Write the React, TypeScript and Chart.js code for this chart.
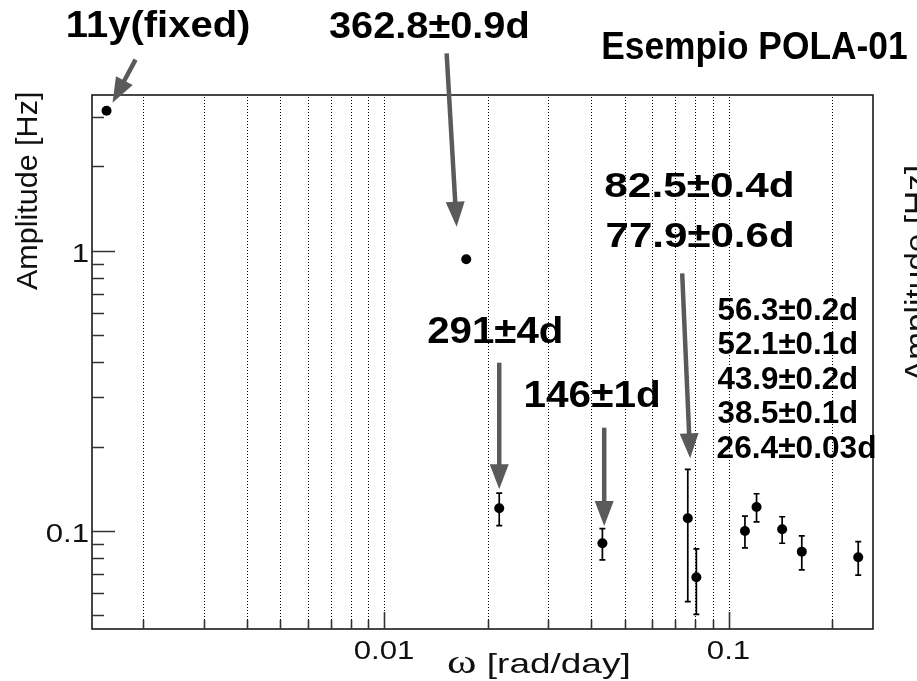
import { useEffect, useRef } from "react";
import { Chart, registerables } from "chart.js";

Chart.register(...registerables);

// Fitted periods in days (the first one is the fixed 11-year cycle)
const periodDays = [4017.75, 362.8, 291, 146, 82.5, 77.9, 56.3, 52.1, 43.9, 38.5, 26.4];
// Fitted amplitudes [Hz] and their errors
const amplitudeHz = [3.16, 0.932, 0.1205, 0.0904, 0.111, 0.0684, 0.1, 0.1218, 0.1014, 0.0844, 0.0806];
const amplitudeErr = [0, 0, 0.016, 0.0115, 0.055, 0.018, 0.013, 0.014, 0.011, 0.0117, 0.011];
// Period labels written on the plot
const periodLabels = [
  "11y(fixed)",
  "362.8±0.9d",
  "291±4d",
  "146±1d",
  "82.5±0.4d",
  "77.9±0.6d",
  "56.3±0.2d",
  "52.1±0.1d",
  "43.9±0.2d",
  "38.5±0.1d",
  "26.4±0.03d",
];
const chartTitle = "Esempio POLA-01";
const xTitle = "ω";
const xTitleRest = " [rad/day]";
const yTitle = "Amplitude [Hz]";

// Axis ticks
const xLabelTicks = [0.01, 0.1];
const xGridTicks = [
  0.002, 0.003, 0.004, 0.005, 0.006, 0.007, 0.008, 0.009, 0.01,
  0.02, 0.03, 0.04, 0.05, 0.06, 0.07, 0.08, 0.09, 0.1, 0.2,
];
const yLabelTicks = [0.1, 1];
const yMinorTicks = [0.05, 0.06, 0.07, 0.08, 0.09, 0.2, 0.3, 0.4, 0.5, 0.6, 0.7, 0.8, 0.9, 2, 3];

const X_MIN = 0.001419;
const X_MAX = 0.2627;
const Y_MIN = 0.0447;
const Y_MAX = 3.594;

// ω = 2π / T
const omega = periodDays.map((t) => (2 * Math.PI) / t);

const SANS = '"Liberation Sans", Arial, Helvetica, sans-serif';
const SERIF = '"Liberation Serif", "Times New Roman", serif';
const ARROW = "#5a5a5a";

type Run = { text: string; font: string };

// Draws text runs so that their ink spans [left, right] on the given baseline.
function fitRuns(ctx: CanvasRenderingContext2D, runs: Run[], left: number, right: number, base: number) {
  ctx.save();
  ctx.textAlign = "left";
  ctx.textBaseline = "alphabetic";
  const ms = runs.map((r) => {
    ctx.font = r.font;
    return ctx.measureText(r.text);
  });
  const total = ms.reduce((a, m) => a + m.width, 0);
  const inkStart = -ms[0].actualBoundingBoxLeft;
  const last = ms[ms.length - 1];
  const inkEnd = total - last.width + last.actualBoundingBoxRight;
  const s = (right - left) / (inkEnd - inkStart);
  ctx.translate(left, base);
  ctx.scale(s, 1);
  let x = -inkStart;
  runs.forEach((r, i) => {
    ctx.font = r.font;
    ctx.fillText(r.text, x, 0);
    x += ms[i].width;
  });
  ctx.restore();
}

// Vertical text read bottom-to-top, ink spanning [top, bottom].
function fitVertical(ctx: CanvasRenderingContext2D, text: string, font: string, baseX: number, bottom: number, top: number) {
  ctx.save();
  ctx.font = font;
  ctx.textAlign = "left";
  ctx.textBaseline = "alphabetic";
  const m = ctx.measureText(text);
  const ink = m.actualBoundingBoxLeft + m.actualBoundingBoxRight;
  const s = (bottom - top) / ink;
  ctx.translate(baseX, bottom);
  ctx.rotate(-Math.PI / 2);
  ctx.scale(s, 1);
  ctx.fillText(text, m.actualBoundingBoxLeft, 0);
  ctx.restore();
}

function drawScaled(ctx: CanvasRenderingContext2D, text: string, font: string, x: number, base: number, sx: number, align: CanvasTextAlign) {
  ctx.save();
  ctx.font = font;
  ctx.textAlign = align;
  ctx.textBaseline = "alphabetic";
  ctx.translate(x, base);
  ctx.scale(sx, 1);
  ctx.fillText(text, 0, 0);
  ctx.restore();
}

function arrow(ctx: CanvasRenderingContext2D, x1: number, y1: number, x2: number, y2: number) {
  const headLen = 25;
  const headHalf = 9.5;
  const dx = x2 - x1;
  const dy = y2 - y1;
  const len = Math.hypot(dx, dy);
  const ux = dx / len;
  const uy = dy / len;
  const bx = x2 - ux * headLen;
  const by = y2 - uy * headLen;
  ctx.save();
  ctx.strokeStyle = ARROW;
  ctx.fillStyle = ARROW;
  ctx.lineWidth = 4.5;
  ctx.beginPath();
  ctx.moveTo(x1, y1);
  ctx.lineTo(bx + ux, by + uy);
  ctx.stroke();
  ctx.beginPath();
  ctx.moveTo(x2, y2);
  ctx.lineTo(bx - uy * headHalf, by + ux * headHalf);
  ctx.lineTo(bx + uy * headHalf, by - ux * headHalf);
  ctx.closePath();
  ctx.fill();
  ctx.restore();
}

// Annotation arrows, attached to a data point: tail and tip offsets in px
const arrowSpecs = [
  { idx: 0, tail: [29, -51], tip: [6, -8] },
  { idx: 1, tail: [-19.6, -206], tip: [-9.6, -32.6] },
  { idx: 2, tail: [0, -145.6], tip: [0, -19] },
  { idx: 3, tail: [1.8, -115.6], tip: [1.8, -17.3] },
  { idx: 4, tail: [-5.6, -245], tip: [2.4, -60] },
];

// Annotation text boxes: label index, font size, ink left/right, baseline
const textSpecs = [
  { idx: 0, size: 37, left: 68, right: 249, base: 37.3 },
  { idx: 1, size: 37, left: 329, right: 528, base: 38.3 },
  { idx: 2, size: 37, left: 428.3, right: 561.7, base: 343.3 },
  { idx: 3, size: 37, left: 525.7, right: 659, base: 406.7 },
  { idx: 4, size: 35, left: 605.5, right: 793, base: 196.7 },
  { idx: 5, size: 35, left: 606.7, right: 793, base: 246.7 },
  { idx: 6, size: 32, left: 717.5, right: 856.7, base: 320 },
  { idx: 7, size: 32, left: 717.5, right: 856.7, base: 354.4 },
  { idx: 8, size: 32, left: 717.5, right: 856.7, base: 388.8 },
  { idx: 9, size: 32, left: 717.5, right: 856.7, base: 423.2 },
  { idx: 10, size: 32, left: 717.5, right: 875, base: 457.6 },
];

const framePlugin = {
  id: "rootFrame",
  beforeDraw(chart: Chart) {
    const ctx = chart.ctx;
    ctx.save();
    ctx.fillStyle = "#fff";
    ctx.fillRect(0, 0, chart.width, chart.height);
    ctx.restore();
  },
  beforeDatasetsDraw(chart: Chart) {
    const ctx = chart.ctx;
    const { top, bottom } = chart.chartArea;
    const xs = chart.scales.x;
    const ys = chart.scales.y;

    // dotted vertical grid
    ctx.save();
    ctx.strokeStyle = "#000";
    ctx.lineWidth = 1;
    ctx.setLineDash([1, 2]);
    xGridTicks.forEach((v) => {
      const x = Math.round(xs.getPixelForValue(v)) + 0.5;
      ctx.beginPath();
      ctx.moveTo(x, bottom);
      ctx.lineTo(x, top);
      ctx.stroke();
    });
    ctx.restore();

    // error bars
    ctx.save();
    ctx.strokeStyle = "#000";
    ctx.lineWidth = 1.7;
    omega.forEach((w, i) => {
      const e = amplitudeErr[i];
      if (!e) return;
      const x = xs.getPixelForValue(w);
      const y1 = ys.getPixelForValue(amplitudeHz[i] + e);
      const y2 = ys.getPixelForValue(amplitudeHz[i] - e);
      ctx.beginPath();
      ctx.moveTo(x, y1);
      ctx.lineTo(x, y2);
      ctx.moveTo(x - 3, y1);
      ctx.lineTo(x + 3, y1);
      ctx.moveTo(x - 3, y2);
      ctx.lineTo(x + 3, y2);
      ctx.stroke();
    });
    ctx.restore();
  },
  afterDatasetsDraw(chart: Chart) {
    const ctx = chart.ctx;
    const { left, right, top, bottom } = chart.chartArea;
    const xs = chart.scales.x;
    const ys = chart.scales.y;

    // frame
    ctx.save();
    ctx.strokeStyle = "#1a1a1a";
    ctx.lineWidth = 1.6;
    ctx.strokeRect(left, top, right - left, bottom - top);

    // tick marks
    ctx.strokeStyle = "#333";
    ctx.lineWidth = 1.6;
    ctx.beginPath();
    xGridTicks.forEach((v) => {
      const x = Math.round(xs.getPixelForValue(v)) + 0.5;
      const len = xLabelTicks.includes(v) ? 17 : 9;
      ctx.moveTo(x, bottom);
      ctx.lineTo(x, bottom - len);
    });
    yLabelTicks.concat(yMinorTicks).forEach((v) => {
      const y = Math.round(ys.getPixelForValue(v)) + 0.5;
      const len = yLabelTicks.includes(v) ? 23 : 12;
      ctx.moveTo(left, y);
      ctx.lineTo(left + len, y);
    });
    ctx.stroke();
    ctx.restore();

    // tick labels
    ctx.save();
    ctx.fillStyle = "#111";
    const tickFont = `26px ${SANS}`;
    xLabelTicks.forEach((v) => {
      drawScaled(ctx, String(v), tickFont, xs.getPixelForValue(v), bottom + 29.5, 1.2, "center");
    });
    yLabelTicks.forEach((v) => {
      drawScaled(ctx, String(v), tickFont, left - 3, ys.getPixelForValue(v) + 11, 1.2, "right");
    });

    // axis titles
    fitRuns(
      ctx,
      [
        { text: xTitle, font: `34px ${SERIF}` },
        { text: xTitleRest, font: `28px ${SANS}` },
      ],
      448.3,
      628.3,
      673.3
    );
    fitVertical(ctx, yTitle, `30px ${SANS}`, 37, 290, 93);
    // neighbouring panel's axis title, running off the right edge
    fitVertical(ctx, yTitle, `32px ${SANS}`, 926.5, 382, 167);
    ctx.restore();

    // arrows
    arrowSpecs.forEach((a) => {
      const px = xs.getPixelForValue(omega[a.idx]);
      const py = ys.getPixelForValue(amplitudeHz[a.idx]);
      arrow(ctx, px + a.tail[0], py + a.tail[1], px + a.tip[0], py + a.tip[1]);
    });

    // annotation texts
    ctx.save();
    ctx.fillStyle = "#000";
    textSpecs.forEach((t) => {
      fitRuns(ctx, [{ text: periodLabels[t.idx], font: `bold ${t.size}px ${SANS}` }], t.left, t.right, t.base);
    });
    fitRuns(ctx, [{ text: chartTitle, font: `bold 39px ${SANS}` }], 603, 907, 59.3);
    ctx.restore();
  },
};

export default function App() {
  const ref = useRef<HTMLCanvasElement>(null);
  useEffect(() => {
    const canvas = ref.current;
    if (!canvas) return;
    const points = omega.map((w, i) => ({ x: w, y: amplitudeHz[i] }));
    const chart = new Chart(canvas, {
      type: "scatter",
      data: {
        datasets: [
          {
            data: points,
            pointRadius: 5,
            pointHoverRadius: 5,
            pointStyle: "circle",
            backgroundColor: "#000",
            borderColor: "#000",
            borderWidth: 0,
          },
        ],
      },
      options: {
        responsive: false,
        animation: false,
        events: [],
        layout: { padding: { left: 92, top: 95, right: 44, bottom: 52 } },
        plugins: { legend: { display: false }, tooltip: { enabled: false } },
        scales: {
          x: { type: "logarithmic", min: X_MIN, max: X_MAX, display: false },
          y: { type: "logarithmic", min: Y_MIN, max: Y_MAX, display: false },
        },
      },
      plugins: [framePlugin],
    });
    return () => chart.destroy();
  }, []);
  return (
    <div style={{ position: "absolute", left: 0, top: 0, width: 917, height: 681, background: "#fff" }}>
      <canvas ref={ref} width={917} height={681} style={{ display: "block" }} />
    </div>
  );
}
